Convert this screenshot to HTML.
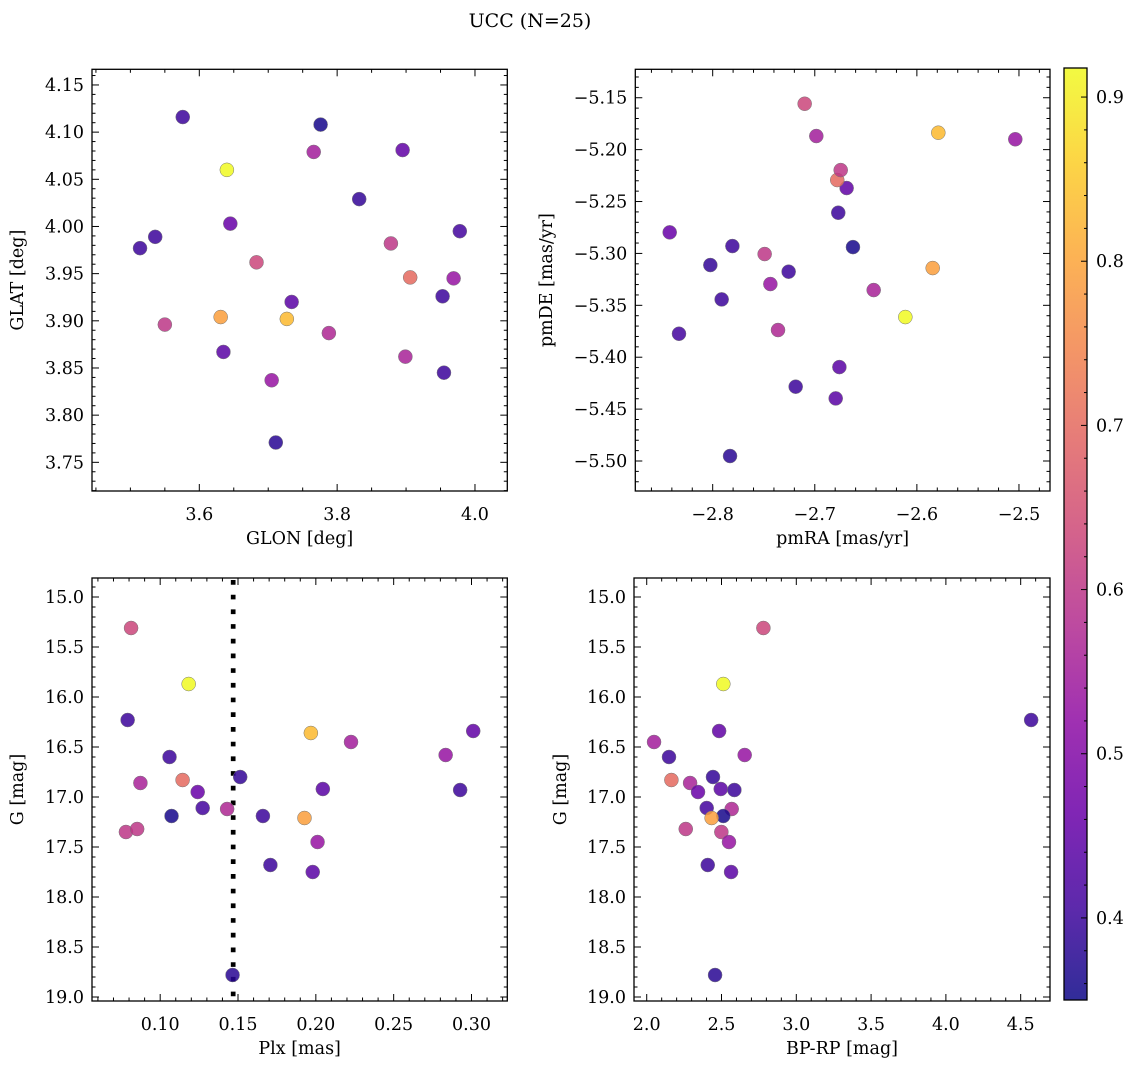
<!DOCTYPE html>
<html><head><meta charset="utf-8">
<style>
html,body{margin:0;padding:0;background:#fff;}
svg{display:block;}
svg text{font-family:"DejaVu Serif","Liberation Serif",serif;}
</style></head>
<body>
<svg id="fig" width="1136" height="1068" viewBox="0 0 1136 1068" xmlns="http://www.w3.org/2000/svg" font-family="DejaVu Serif, Liberation Serif, serif">
<text x="530" y="27" font-size="19" text-anchor="middle" font-family="DejaVu Serif, Liberation Serif, serif">UCC (N=25)</text>
</svg>
<script>
// ---- data (25 members) ----
const glon = [3.683,3.640,3.576,3.727,3.766,3.895,3.969,3.536,3.832,3.899,3.906,3.645,3.734,3.514,3.978,3.788,3.776,3.955,3.631,3.878,3.550,3.705,3.953,3.635,3.711];
const glat = [3.962,4.060,4.116,3.902,4.079,4.081,3.945,3.989,4.029,3.862,3.946,4.003,3.920,3.977,3.995,3.887,4.108,3.845,3.904,3.982,3.896,3.837,3.926,3.867,3.771];
const pmra = [-2.7099,-2.6113,-2.677,-2.579,-2.6985,-2.6688,-2.7435,-2.7807,-2.8023,-2.6423,-2.678,-2.8421,-2.6759,-2.7912,-2.833,-2.736,-2.6626,-2.7256,-2.5845,-2.6746,-2.7491,-2.5036,-2.7187,-2.6795,-2.783];
const pmde = [-5.1558,-5.3613,-5.2608,-5.1837,-5.1869,-5.237,-5.3295,-5.2929,-5.3112,-5.3353,-5.2293,-5.2797,-5.4095,-5.3443,-5.3774,-5.3738,-5.2939,-5.3176,-5.3141,-5.2197,-5.3006,-5.190,-5.4284,-5.4397,-5.4952];
const plx = [0.0813,0.1183,0.0791,0.1968,0.2226,0.3011,0.2834,0.1060,0.1514,0.0873,0.1144,0.1241,0.2045,0.2927,0.1273,0.1430,0.1073,0.1660,0.1927,0.0780,0.0852,0.2011,0.1708,0.1980,0.1465];
const gmag = [15.31,15.87,16.23,16.36,16.45,16.34,16.58,16.60,16.80,16.86,16.83,16.95,16.92,16.93,17.11,17.12,17.19,17.19,17.21,17.35,17.32,17.45,17.68,17.75,18.78];
const bprp = [2.780,2.512,4.570,null,2.049,2.484,2.655,2.149,2.443,2.290,2.165,2.343,2.495,2.586,2.401,2.568,2.512,null,2.434,2.499,2.261,2.550,2.408,2.564,2.457];
const prob = [0.63,0.92,0.40,0.83,0.55,0.45,0.53,0.40,0.39,0.56,0.70,0.46,0.44,0.40,0.41,0.57,0.36,0.40,0.79,0.60,0.60,0.53,0.40,0.44,0.38];
const plxLine = 0.1469;
const cbTicks = [0.4,0.5,0.6,0.7,0.8,0.9];
const VMIN = 0.350, VMAX = 0.9177;

const NS = "http://www.w3.org/2000/svg";
const FONT = "DejaVu Serif, Liberation Serif, serif";
const svg = document.getElementById('fig');
function mk(tag, attrs, parent){ const e=document.createElementNS(NS,tag); for(const k in attrs) e.setAttribute(k,attrs[k]); if(tag==='text') e.setAttribute('font-family',FONT); (parent||svg).appendChild(e); return e; }

const plasma = [[13,8,135],[65,4,157],[106,0,168],[143,13,164],[177,42,144],[204,71,120],[225,100,98],[242,132,75],[252,166,54],[252,206,37],[240,249,33]];
function cmap(v){ let t=(v-VMIN)/(VMAX-VMIN); t=Math.max(0,Math.min(1,t)); const f=t*10, i=Math.min(9,Math.floor(f)), r=f-i;
  const a=plasma[i], b=plasma[i+1]; return 'rgb('+a.map((c,j)=>Math.round(c+(b[j]-c)*r)).join(',')+')'; }
function fmt(v,d){ const s=Math.abs(v).toFixed(d); return (v<0?'\u2212':'')+s; }

function panel(o){
  const g=mk('g',{});  
  const sx=v=>o.x0+(v-o.xmin)/(o.xmax-o.xmin)*(o.x1-o.x0);
  const sy=o.flip ? (v=>o.y0+(v-o.ymin)/(o.ymax-o.ymin)*(o.y1-o.y0)) : (v=>o.y1-(v-o.ymin)/(o.ymax-o.ymin)*(o.y1-o.y0));
  const e=1e-9;
  const tk=(val,major,axis)=>{
    const L=major?7:3.5;
    if(axis==='x'){ const x=sx(val); mk('line',{x1:x,x2:x,y1:o.y1,y2:o.y1-L,stroke:'#000','stroke-width':1},g); mk('line',{x1:x,x2:x,y1:o.y0,y2:o.y0+L,stroke:'#000','stroke-width':1},g); }
    else { const y=sy(val); mk('line',{x1:o.x0,x2:o.x0+L,y1:y,y2:y,stroke:'#000','stroke-width':1},g); mk('line',{x1:o.x1,x2:o.x1-L,y1:y,y2:y,stroke:'#000','stroke-width':1},g); }
  };
  for(let v=Math.ceil(o.xmin/o.xminor-e)*o.xminor; v<=o.xmax+e; v+=o.xminor){ const isM=Math.abs(v/o.xmajor-Math.round(v/o.xmajor))<1e-6; tk(v,isM,'x');
    if(isM){ const t=mk('text',{x:sx(v),y:o.y1+29,'font-size':17.5,'text-anchor':'middle'},g); t.textContent=fmt(v,o.xd);   } }
  for(let v=Math.ceil(o.ymin/o.yminor-e)*o.yminor; v<=o.ymax+e; v+=o.yminor){ const isM=Math.abs(v/o.ymajor-Math.round(v/o.ymajor))<1e-6; tk(v,isM,'y');
    if(isM){ const t=mk('text',{x:o.x0-8,y:sy(v)+6,'font-size':17.5,'text-anchor':'end'},g); t.textContent=fmt(v,o.yd);   } }
  if(o.vline!==undefined){ const x=sx(o.vline); const l=mk('line',{x1:x,x2:x,y1:o.y0+2,y2:o.y1,stroke:'#000','stroke-width':4.7,'stroke-dasharray':'4.7 10'},g);   }
  for(let i=0;i<o.xs.length;i++){ if(o.xs[i]===null||o.ys[i]===null) continue;
    const c=mk('circle',{cx:sx(o.xs[i]),cy:sy(o.ys[i]),r:7,fill:cmap(prob[i]),'fill-opacity':0.85,stroke:'#777','stroke-width':0.5},g);
      }
  const fr=mk('rect',{x:o.x0,y:o.y0,width:o.x1-o.x0,height:o.y1-o.y0,fill:'none',stroke:'#000','stroke-width':1.3},g);
   
  const xl=mk('text',{x:(o.x0+o.x1)/2,y:o.y1+53,'font-size':17.5,'text-anchor':'middle'},g); xl.textContent=o.xlabel;
   
  const yx=o.ylx, yy=(o.y0+o.y1)/2;
  const yl=mk('text',{x:yx,y:yy,'font-size':17.5,'text-anchor':'middle',transform:'rotate(-90 '+yx+' '+yy+')'},g); yl.textContent=o.ylabel;
   
}

panel({name:'glon-glat-panel',x0:92,x1:507.3,y0:69.3,y1:491,xmin:3.4443,xmax:4.0469,ymin:3.7196,ymax:4.1666,xmajor:0.2,xminor:0.05,ymajor:0.05,yminor:0.01,xd:1,yd:2,xs:glon,ys:glat,xlabel:'GLON [deg]',ylabel:'GLAT [deg]',ylx:23});
panel({name:'pm-panel',x0:635.3,x1:1050,y0:69.3,y1:491,xmin:-2.8758,xmax:-2.4696,ymin:-5.5289,ymax:-5.1226,xmajor:0.1,xminor:0.02,ymajor:0.05,yminor:0.01,xd:1,yd:2,xs:pmra,ys:pmde,xlabel:'pmRA [mas/yr]',ylabel:'pmDE [mas/yr]',ylx:552});
panel({name:'plx-g-panel',x0:92,x1:507.3,y0:578,y1:1001,xmin:0.0562,xmax:0.323,ymin:14.81,ymax:19.04,xmajor:0.05,xminor:0.01,ymajor:0.5,yminor:0.1,xd:2,yd:1,xs:plx,ys:gmag,xlabel:'Plx [mas]',ylabel:'G [mag]',ylx:23,vline:plxLine,flip:true});
panel({name:'cmd-panel',x0:634,x1:1050,y0:578,y1:1001,xmin:1.915,xmax:4.696,ymin:14.81,ymax:19.04,xmajor:0.5,xminor:0.1,ymajor:0.5,yminor:0.1,xd:1,yd:1,xs:bprp,ys:gmag,xlabel:'BP-RP [mag]',ylabel:'G [mag]',ylx:566,flip:true});

// colorbar
const cb=mk('g',{});  
const defs=mk('defs',{},cb); const lg=mk('linearGradient',{id:'pl',x1:0,y1:1,x2:0,y2:0},defs);
for(let i=0;i<=20;i++){ const v=VMIN+(VMAX-VMIN)*i/20; mk('stop',{offset:(i/20),'stop-color':cmap(v)},lg); }
const CB0=68, CB1=1000, CBX=1064, CBW=23;
mk('rect',{x:CBX,y:CB0,width:CBW,height:CB1-CB0,fill:'url(#pl)','fill-opacity':0.85},cb);
mk('rect',{x:CBX,y:CB0,width:CBW,height:CB1-CB0,fill:'none',stroke:'#000','stroke-width':1.3},cb);
const cy=v=>CB1-(v-VMIN)/(VMAX-VMIN)*(CB1-CB0);
for(let v=0.36; v<=VMAX+1e-9; v+=0.02){ const M=Math.abs(v*10-Math.round(v*10))<1e-6; const y=cy(v);
  mk('line',{x1:CBX+CBW,x2:CBX+CBW-(M?6:3),y1:y,y2:y,stroke:'#000','stroke-width':1},cb); }
for(const v of cbTicks){ const t=mk('text',{x:CBX+CBW+9,y:cy(v)+6,'font-size':17.5},cb); t.textContent=v.toFixed(1);
    }
</script>
</body></html>
